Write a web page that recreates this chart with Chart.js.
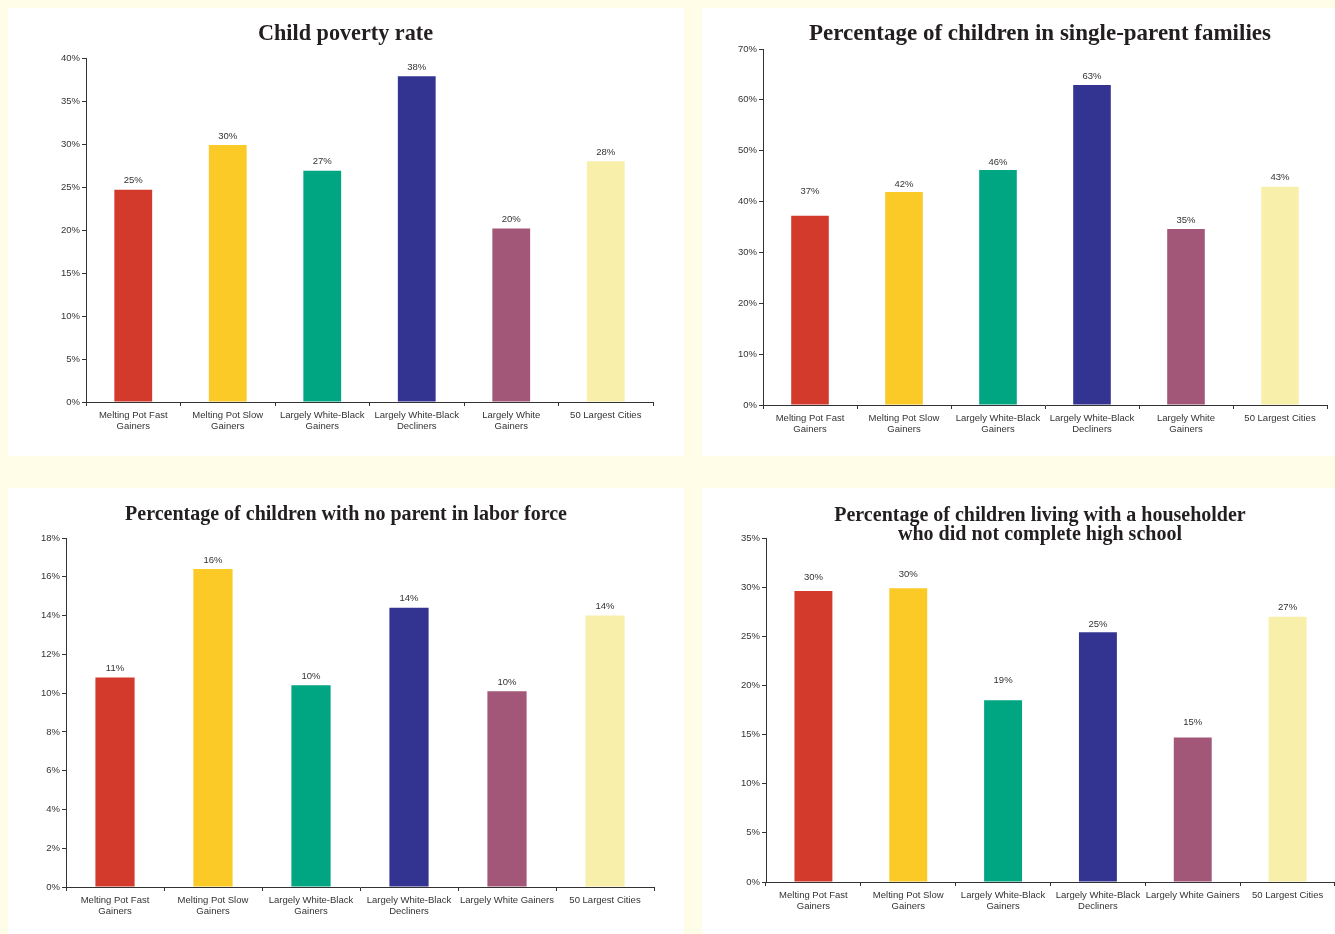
<!DOCTYPE html>
<html>
<head>
<meta charset="utf-8">
<script src="https://cdn.jsdelivr.net/npm/chart.js@4.4.1/dist/chart.umd.min.js"></script>
<style>
  html, body { margin: 0; padding: 0; }
  body { width: 1335px; height: 934px; background: #FFFCE8; position: relative; overflow: hidden; }
  .panel { position: absolute; background: #fff; }
</style>
</head>
<body>
<div class="panel" style="left:8px;top:8px;width:676px;height:448px"><canvas id="c1"></canvas></div>
<div class="panel" style="left:702px;top:8px;width:633px;height:448px"><canvas id="c2"></canvas></div>
<div class="panel" style="left:8px;top:488px;width:676px;height:446px"><canvas id="c3"></canvas></div>
<div class="panel" style="left:702px;top:488px;width:633px;height:446px"><canvas id="c4"></canvas></div>

<script>
// categories (top charts wrap "Largely White Gainers", bottom ones don't)
const categoriesTop = [
  ["Melting Pot Fast", "Gainers"],
  ["Melting Pot Slow", "Gainers"],
  ["Largely White-Black", "Gainers"],
  ["Largely White-Black", "Decliners"],
  ["Largely White", "Gainers"],
  "50 Largest Cities"
];
const categoriesBottom = [
  ["Melting Pot Fast", "Gainers"],
  ["Melting Pot Slow", "Gainers"],
  ["Largely White-Black", "Gainers"],
  ["Largely White-Black", "Decliners"],
  "Largely White Gainers",
  "50 Largest Cities"
];

// values in percent
const povertyRate = [24.7, 29.9, 26.9, 37.9, 20.2, 28.0];
const singleParent = [37.2, 41.9, 46.2, 62.9, 34.6, 42.9];
const noParentInLabor = [10.8, 16.4, 10.4, 14.4, 10.1, 14.0];
const noHighSchool = [29.6, 29.9, 18.5, 25.4, 14.7, 27.0];

// y axis ranges: [max, step]
const yAxis1 = [40, 5];
const yAxis2 = [70, 10];
const yAxis3 = [18, 2];
const yAxis4 = [35, 5];

const barColors = ["#D43A2C", "#FBCA26", "#00A582", "#333491", "#A25678", "#F8EFAA"];

// draws "xx%" above each bar
const valueLabels = {
  id: "valueLabels",
  afterDatasetsDraw(chart, args, opts) {
    const ctx = chart.ctx;
    const meta = chart.getDatasetMeta(0);
    const data = chart.data.datasets[0].data;
    ctx.save();
    ctx.font = '9.5px "Liberation Sans", Arial, sans-serif';
    ctx.fillStyle = "#333";
    ctx.textAlign = "center";
    ctx.textBaseline = "middle";
    meta.data.forEach((bar, i) => {
      const gap = Array.isArray(opts.gap) ? opts.gap[i] : opts.gap;
      ctx.fillText(Math.round(data[i]) + "%", bar.x, bar.y - gap);
    });
    ctx.restore();
  }
};

// moves the title block so its text is centred on a given x
const titleCenter = {
  id: "titleCenter",
  afterLayout(chart, args, opts) {
    const t = chart.titleBlock;
    if (!t || opts.x == null) return;
    const w = t.right - t.left;
    t.left = opts.x - w / 2;
    t.right = opts.x + w / 2;
  }
};

function makeChart(id, o) {
  const ctx = document.getElementById(id).getContext("2d");
  const tickFont = { family: '"Liberation Sans", Arial, sans-serif', size: 9.5, lineHeight: 1.15 };
  return new Chart(ctx, {
    type: "bar",
    data: {
      labels: o.labels,
      datasets: [{
        data: o.values,
        backgroundColor: barColors,
        borderWidth: 0,
        barPercentage: 0.4,
        categoryPercentage: 1
      }]
    },
    plugins: [valueLabels, titleCenter],
    options: {
      responsive: true,
      maintainAspectRatio: false,
      animation: false,
      layout: { padding: { left: o.padL, right: o.padR, top: 0, bottom: 0 } },
      plugins: {
        legend: { display: false },
        tooltip: { enabled: false },
        title: {
          display: true,
          text: o.title,
          color: "#231F20",
          font: { family: '"Liberation Serif", "Times New Roman", serif', weight: "bold", size: o.titleSize, lineHeight: o.titleLH },
          padding: { top: o.titleTop, bottom: o.titleBottom }
        },
        titleCenter: { x: o.titleX },
        valueLabels: { gap: o.gap }
      },
      scales: {
        x: {
          grid: { display: true, drawOnChartArea: false, drawTicks: true, tickLength: 4, color: "#333", offset: true },
          border: { color: "#333", width: 1 },
          ticks: { color: "#333", font: tickFont, padding: 4, maxRotation: 0, autoSkip: false },
          afterFit: s => { s.height = o.xH; }
        },
        y: {
          min: 0,
          max: o.yAxis[0],
          grid: { drawOnChartArea: false, drawTicks: true, tickLength: 4, color: "#333" },
          border: { color: "#333", width: 1 },
          ticks: { stepSize: o.yAxis[1], color: "#333", font: tickFont, padding: 2, callback: v => v + "%" },
          afterFit: s => { s.width = o.yW; }
        }
      }
    }
  });
}

makeChart("c1", {
  labels: categoriesTop, values: povertyRate, yAxis: yAxis1,
  title: "Child poverty rate", titleSize: 22.2, titleLH: 1.2, titleTop: 12.8, titleBottom: 10.8, titleX: 337.5,
  padL: 29, padR: 31, yW: 49, xH: 54, gap: 9
});
makeChart("c2", {
  labels: categoriesTop, values: singleParent, yAxis: yAxis2,
  title: "Percentage of children in single-parent families", titleSize: 23, titleLH: 1.2, titleTop: 12.3, titleBottom: 1.1, titleX: 338,
  padL: 16, padR: 8, yW: 45, xH: 51, gap: [24, 8, 8, 9, 9, 9]
});
makeChart("c3", {
  labels: categoriesBottom, values: noParentInLabor, yAxis: yAxis3,
  title: "Percentage of children with no parent in labor force", titleSize: 20, titleLH: 1.2, titleTop: 15, titleBottom: 11, titleX: 338,
  padL: 30, padR: 30, yW: 28, xH: 47, gap: 9
});
makeChart("c4", {
  labels: categoriesBottom, values: noHighSchool, yAxis: yAxis4,
  title: ["Percentage of children living with a householder", "who did not complete high school"],
  titleSize: 20, titleLH: "19px", titleTop: 18.5, titleBottom: -6.5, titleX: 338,
  padL: 19, padR: 0, yW: 45, xH: 52, gap: [14, 14, 20, 8, 15, 9]
});
</script>
</body>
</html>
